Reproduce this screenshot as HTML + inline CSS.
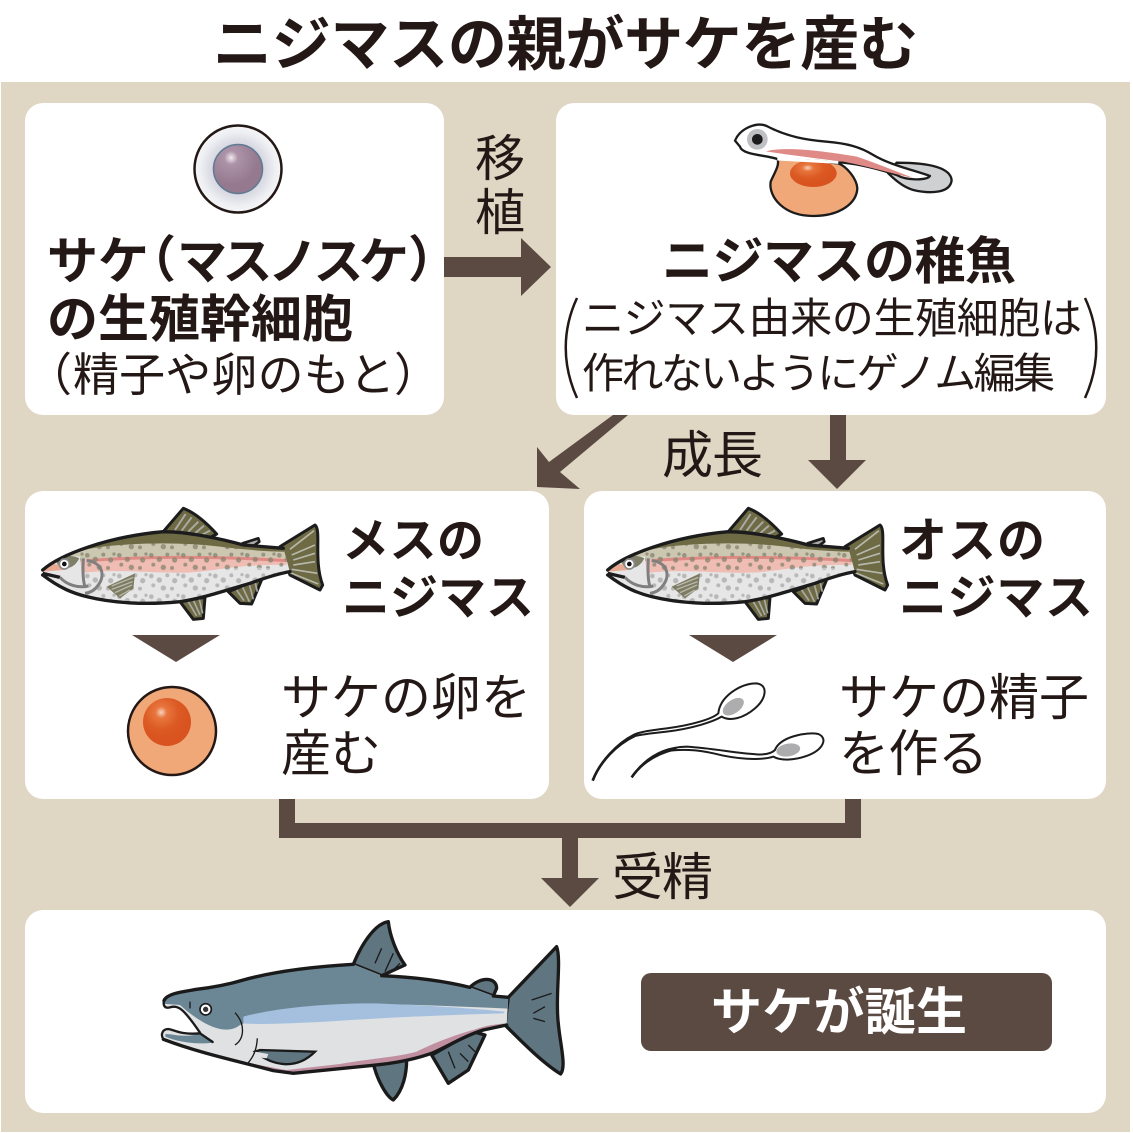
<!DOCTYPE html>
<html lang="ja"><head><meta charset="utf-8"><title>ニジマスの親がサケを産む</title>
<style>
html,body{margin:0;padding:0;background:#fff}
svg{display:block}
text{font-family:"Liberation Sans","Noto Sans CJK JP",sans-serif;fill:#231815}
.b{font-weight:700}
</style></head><body>
<svg width="1133" height="1133" viewBox="0 0 1133 1133" xmlns="http://www.w3.org/2000/svg">
<defs>
<radialGradient id="cell" cx=".5" cy=".5" r=".5"><stop offset=".5" stop-color="#cfd0da"/><stop offset=".85" stop-color="#eeeff3"/><stop offset="1" stop-color="#f6f6f8"/></radialGradient>
<radialGradient id="nuc" cx=".36" cy=".27" r=".55"><stop offset="0" stop-color="#f2eaf0"/><stop offset=".25" stop-color="#ad93a8"/><stop offset="1" stop-color="#94798f"/></radialGradient>
<radialGradient id="yolk" cx=".38" cy=".3" r=".6"><stop offset="0" stop-color="#f8d4c0"/><stop offset=".2" stop-color="#e8763e"/><stop offset=".6" stop-color="#dc5a24"/><stop offset="1" stop-color="#d8531f"/></radialGradient>
<pattern id="sp" width="96" height="62" patternUnits="userSpaceOnUse" fill="#b8b8b8">
<circle cx="10" cy="10" r="7"/><circle cx="34" cy="22" r="8"/><circle cx="58" cy="8" r="6"/><circle cx="80" cy="24" r="8"/><circle cx="16" cy="38" r="6"/><circle cx="46" cy="46" r="8"/><circle cx="72" cy="48" r="6"/><circle cx="90" cy="6" r="5"/>
</pattern>
<pattern id="sd" width="96" height="62" patternUnits="userSpaceOnUse" fill="#85826e" fill-opacity=".75">
<circle cx="10" cy="10" r="7"/><circle cx="34" cy="22" r="8"/><circle cx="58" cy="8" r="6"/><circle cx="80" cy="24" r="8"/><circle cx="16" cy="38" r="6"/><circle cx="46" cy="46" r="8"/><circle cx="72" cy="48" r="6"/><circle cx="90" cy="6" r="5"/>
</pattern>
<clipPath id="tb"><path d="M68 240C120 195 260 140 430 125C500 125 600 145 670 165L790 175L810 245C780 250 740 262 690 280C620 300 550 325 480 335C380 345 280 340 200 320C160 310 120 295 68 255Z"/></clipPath>
<g id="trout">
<path d="M430 125L490 55C530 70 570 110 590 132L560 148Z" fill="#6d6a44" stroke="#1c1c1c" stroke-width="9" stroke-linejoin="round"/>
<path d="M465 120L497 72M485 122L515 82M505 125L535 95M525 130L552 107M545 135L570 122" stroke="#a9aaa4" stroke-width="6" fill="none"/>
<path d="M668 160L715 145L718 155L695 172Z" fill="#a8abaa" stroke="#1c1c1c" stroke-width="8" stroke-linejoin="round"/>
<path d="M780 170L885 105C905 120 880 210 908 285L900 300L810 255Z" fill="#6d6a44" stroke="#1c1c1c" stroke-width="9" stroke-linejoin="round"/>
<path d="M810 178L882 122M815 195L885 165M820 210L885 190M820 225L885 215M815 238L892 250M810 248L895 282" stroke="#b7b8ac" stroke-width="5" fill="none"/>
<path d="M625 305L660 340L695 342L728 262L650 295Z" fill="#6d6a44" stroke="#1c1c1c" stroke-width="9" stroke-linejoin="round"/>
<path d="M650 300L672 332M668 292L688 335M688 283L700 328M705 275L712 305" stroke="#a9aaa4" stroke-width="5" fill="none"/>
<path d="M480 335L520 388L550 385L555 322Z" fill="#6d6a44" stroke="#1c1c1c" stroke-width="9" stroke-linejoin="round"/>
<path d="M505 335L530 378M520 330L540 375M538 328L548 370" stroke="#a9aaa4" stroke-width="5" fill="none"/>
<g clip-path="url(#tb)">
<rect x="60" y="110" width="770" height="240" fill="#e6e6e7"/>
<rect x="190" y="235" width="620" height="110" fill="url(#sp)"/>
<path d="M60 120H830V205C700 215 600 240 500 240C400 240 300 225 180 225L60 240Z" fill="#cbc7b1"/>
<path d="M180 210C300 195 600 195 800 205V225C650 222 580 245 500 248C380 250 280 235 180 250Z" fill="#efbdb4"/>
<path d="M200 212C350 200 600 198 800 212" stroke="#e08a86" stroke-width="9" fill="none"/>
<path d="M180 150H810V240C650 222 580 245 500 248C380 250 280 235 180 250Z" fill="url(#sd)"/>
<path d="M60 110H830V186C740 185 680 180 600 170C500 158 400 158 300 165C200 172 130 190 60 240Z" fill="#6d6a44"/>
<path d="M70 225C100 205 150 195 180 200L190 300L70 255Z" fill="#e6e6e7"/>
<path d="M70 235C90 220 120 215 130 240L70 245Z" fill="#e7a992"/>
<path d="M100 205C130 195 160 195 178 205C165 230 145 240 120 232Z" fill="#7f7f68"/>
</g>
<path d="M68 240C120 195 260 140 430 125C500 125 600 145 670 165L790 175M810 245C780 250 740 262 690 280C620 300 550 325 480 335C380 345 280 340 200 320C160 310 120 295 68 255" fill="none" stroke="#1c1c1c" stroke-width="10" stroke-linecap="round"/>
<path d="M68 250L120 262" stroke="#1c1c1c" stroke-width="10"/>
<path d="M120 262C140 285 175 295 205 288M190 205C188 240 188 270 195 290M200 212C240 215 260 250 235 285C225 300 210 308 195 310" fill="none" stroke="#7f7f7f" stroke-width="9"/>
<circle cx="133" cy="222" r="15" fill="#fff" stroke="#8b8b8b" stroke-width="5"/><circle cx="133" cy="222" r="7" fill="#111"/>
<path d="M260 290L345 250L340 295L300 325Z" fill="#7d7b60"/>
<path d="M275 288L340 262M275 298L338 275M285 308L336 285M298 318L330 300" stroke="#b8b8ae" stroke-width="4"/>
</g>
<clipPath id="sb"><path d="M72 272C80 250 130 245 170 238C220 232 260 225 310 210C400 185 520 170 640 163L725 197C800 200 900 210 990 232L1060 258L1105 262L1100 345L1030 360C980 375 930 405 880 428C820 450 760 460 700 466L460 490L400 482C300 455 180 430 70 388Z"/></clipPath>
</defs>

<rect width="1133" height="1133" fill="#fff"/>
<rect x="1" y="82" width="1129" height="1050" fill="#dfd6c4"/>
<rect x="25" y="103" width="419" height="312" rx="18" fill="#fff"/>
<rect x="556" y="103" width="550" height="312" rx="18" fill="#fff"/>
<rect x="25" y="491" width="524" height="308" rx="18" fill="#fff"/>
<rect x="584" y="491" width="522" height="308" rx="18" fill="#fff"/>
<rect x="25" y="910" width="1081" height="203" rx="18" fill="#fff"/>

<text class="b" x="213" y="65" font-size="59" textLength="705" lengthAdjust="spacing">ニジマスの親がサケを産む</text>

<!-- arrows -->
<g fill="#5a4a42">
<path d="M444 257H521V238L551 267L521 296V277H444Z"/>
<path d="M613 415H628L560 472L580 489L537 487V447L549 462Z"/>
<path d="M830 415H846V460H866L837 489L808 460H830Z"/>
<path d="M279 799H295V823H845V799H861V838H578V878H599L570 907L541 878H562V838H279Z"/>
<path d="M132 635H220L176 662Z"/>
<path d="M689 635H777L733 662Z"/>
<rect x="641" y="973" width="411" height="78" rx="10"/>
</g>

<!-- stem cell -->
<circle cx="238" cy="169" r="43.5" fill="url(#cell)" stroke="#231815" stroke-width="2.5"/>
<circle cx="238" cy="169" r="24.5" fill="url(#nuc)" stroke="#5f7a94" stroke-width="1.5"/>

<!-- fry -->
<g transform="translate(700 110) scale(.3333)">
<path d="M232 145C240 165 225 185 212 215C205 260 250 318 340 318C420 318 470 280 472 235C470 205 440 170 415 160Z" fill="#f0a878" stroke="#1c1c1c" stroke-width="7"/>
<ellipse cx="340" cy="190" rx="70" ry="41" fill="url(#yolk)"/>
<path d="M590 158C660 158 750 165 755 210C752 250 690 252 640 240C610 232 580 205 565 190Z" fill="#cfd0d2" stroke="#1c1c1c" stroke-width="7"/>
<path d="M105 92C120 55 170 35 200 48C260 80 320 90 380 95C440 100 480 110 520 135C570 165 640 180 690 198C680 212 620 212 590 195C530 175 470 160 415 157C350 152 280 150 232 147C200 135 125 135 120 110Z" fill="#fff" stroke="#1c1c1c" stroke-width="7" stroke-linejoin="round"/>
<path d="M232 147L415 157" stroke="#fff" stroke-width="9"/>
<path d="M198 124C260 108 380 125 470 140C530 160 590 185 640 204C570 190 500 168 430 155C350 145 270 135 198 124Z" fill="#df8a86"/>
<circle cx="172" cy="88" r="31" fill="#bfc0c2"/><circle cx="172" cy="88" r="16" fill="#1c1c1c"/>
</g>

<!-- trout -->
<use href="#trout" transform="translate(20 490) scale(.3333)"/>
<use href="#trout" transform="translate(585 490) scale(.3333)"/>

<!-- egg -->
<circle cx="172" cy="731" r="44" fill="#f0a878" stroke="#231815" stroke-width="2.5"/>
<circle cx="167" cy="722" r="24" fill="url(#yolk)"/>

<!-- sperm -->
<g transform="translate(580 670) scale(.3333)" fill="none" stroke="#1c1c1c" stroke-width="6">
<path d="M415 130C420 80 480 40 530 40C565 45 560 85 525 115C490 145 450 155 425 140C400 155 340 175 260 185C220 190 190 192 165 198C110 225 60 275 38 332C60 275 110 220 160 195C180 185 220 180 260 175C340 165 400 145 415 130Z" fill="#fff"/>
<path d="M585 240C600 200 680 185 715 192C745 205 730 240 680 258C640 272 600 272 580 260C540 272 470 268 400 250C350 238 300 238 270 242C220 255 180 285 155 322C190 270 240 232 320 230C400 235 470 250 530 253C560 255 575 250 585 240Z" fill="#fff"/>
<path d="M38 332C60 275 110 222 165 197" stroke-width="8"/>
<path d="M155 322C180 285 220 252 290 236" stroke-width="8"/>
<ellipse cx="460" cy="110" rx="36" ry="20" transform="rotate(-35 460 110)" fill="#adadaf" stroke="none"/>
<ellipse cx="625" cy="240" rx="36" ry="19" transform="rotate(-10 625 240)" fill="#adadaf" stroke="none"/>
</g>

<!-- salmon -->
<g transform="translate(140 910) scale(.3333)">
<path d="M640 163C670 90 710 40 745 35C750 80 770 130 795 165L725 197Z" fill="#5f7580" stroke="#1a1a1a" stroke-width="10" stroke-linejoin="round"/>
<path d="M705 160L725 115M735 185L760 130M750 190L780 160" stroke="#1a1a1a" stroke-width="4" fill="none"/>
<path d="M990 232C1020 200 1070 200 1070 235L1060 258Z" fill="#5f7580" stroke="#1a1a1a" stroke-width="10" stroke-linejoin="round"/>
<path d="M1105 262L1250 110C1265 150 1245 260 1255 340C1260 400 1280 470 1262 492C1210 460 1150 400 1095 345Z" fill="#5f7580" stroke="#1a1a1a" stroke-width="10" stroke-linejoin="round"/>
<path d="M1175 270L1235 250M1180 310L1215 290M1180 325L1215 335" stroke="#1a1a1a" stroke-width="4" fill="none"/>
<path d="M875 435L925 520L985 480L1035 375L1000 365Z" fill="#5f7580" stroke="#1a1a1a" stroke-width="10" stroke-linejoin="round"/>
<path d="M925 425L945 475M960 430L985 455M985 405L1005 425" stroke="#1a1a1a" stroke-width="4" fill="none"/>
<path d="M698 452C710 510 740 560 760 570C790 540 800 490 800 450Z" fill="#5f7580" stroke="#1a1a1a" stroke-width="10" stroke-linejoin="round"/>
<g clip-path="url(#sb)">
<rect x="50" y="150" width="1070" height="350" fill="#e0e1e3"/>
<path d="M50 150H1110V296C950 290 800 280 620 285C500 290 380 310 300 345C250 385 170 330 120 285L50 280Z" fill="#6b8796"/>
<path d="M310 320C400 295 550 280 700 280C850 285 1000 295 1095 305L1090 310C900 315 700 325 560 335C450 340 370 345 310 340Z" fill="#a5c0de"/>
<path d="M220 442C300 450 350 465 440 480L600 462C700 445 780 440 830 425C890 395 960 370 1000 360C1040 345 1070 342 1100 340V370L700 500L200 470Z" fill="#c08fa0"/>
</g>
<path d="M72 272C80 250 130 245 170 238C220 232 260 225 310 210C400 185 520 170 640 163M725 197C800 200 900 210 990 232M1060 258L1105 262M1100 345L1030 360C980 375 930 405 880 428C820 450 760 460 700 466L460 490L400 482C300 455 180 430 70 388" fill="none" stroke="#1a1a1a" stroke-width="10" stroke-linecap="round"/>
<!-- mouth -->
<path d="M40 296H82L105 288C125 295 150 330 180 368C150 375 120 372 100 362C85 355 65 360 40 358Z" fill="#fff"/>
<path d="M76 372C100 372 140 385 180 370L218 398C170 405 110 395 76 380Z" fill="#6b8796"/>
<path d="M72 272C68 290 78 296 90 292C115 285 130 295 180 368" fill="none" stroke="#1a1a1a" stroke-width="7" stroke-linecap="round"/>
<path d="M70 388C60 370 70 357 85 357C105 360 120 375 180 370L218 396" fill="none" stroke="#1a1a1a" stroke-width="7" stroke-linecap="round"/>
<path d="M345 425C400 470 470 480 525 425L360 420Z" fill="#5f7580" stroke="#1a1a1a" stroke-width="7"/>
<path d="M345 425L385 432L380 445L340 440Z" fill="#e0e1e3"/>
<path d="M285 308C315 340 315 385 285 405M352 385C350 420 340 440 325 458M150 275V295" fill="none" stroke="#1a1a1a" stroke-width="4"/>
<circle cx="197" cy="298" r="17" fill="#fff" stroke="#1a1a1a" stroke-width="5"/><circle cx="197" cy="298" r="8" fill="#333"/>
</g>

<!-- texts -->
<text class="b" x="47" y="279" font-size="51" textLength="102" lengthAdjust="spacing">サケ</text>
<text class="b" x="126" y="277" font-size="50">（</text>
<text class="b" x="177" y="279" font-size="50" textLength="232" lengthAdjust="spacing">マスノスケ</text>
<text class="b" x="408" y="277" font-size="50">）</text>
<text class="b" x="47" y="337" font-size="51" textLength="306" lengthAdjust="spacing">の生殖幹細胞</text>
<text x="26" y="391" font-size="46">（</text>
<text x="73" y="391" font-size="46" textLength="322" lengthAdjust="spacing">精子や卵のもと</text>
<text x="394" y="391" font-size="46">）</text>
<text x="475" y="176" font-size="50">移</text>
<text x="475" y="230" font-size="50">植</text>
<text class="b" x="662" y="279" font-size="51" textLength="354" lengthAdjust="spacing">ニジマスの稚魚</text>
<text x="582" y="333" font-size="42" textLength="500" lengthAdjust="spacing">ニジマス由来の生殖細胞は</text>
<text x="582" y="388" font-size="42" textLength="473" lengthAdjust="spacing">作れないようにゲノム編集</text>
<path d="M577 298C562 330 562 365 577 398M1085 298C1100 330 1100 365 1085 398" fill="none" stroke="#231815" stroke-width="2.5"/>
<text x="662" y="473" font-size="51" textLength="101" lengthAdjust="spacing">成長</text>
<text class="b" x="342" y="557" font-size="47" textLength="142" lengthAdjust="spacing">メスの</text>
<text class="b" x="342" y="614" font-size="48" textLength="192" lengthAdjust="spacing">ニジマス</text>
<text class="b" x="899" y="557" font-size="48" textLength="146" lengthAdjust="spacing">オスの</text>
<text class="b" x="899" y="614" font-size="48" textLength="194" lengthAdjust="spacing">ニジマス</text>
<text x="281" y="715" font-size="50" textLength="250" lengthAdjust="spacing">サケの卵を</text>
<text x="281" y="771" font-size="50" textLength="100" lengthAdjust="spacing">産む</text>
<text x="839" y="715" font-size="50" textLength="250" lengthAdjust="spacing">サケの精子</text>
<text x="839" y="771" font-size="50" textLength="149" lengthAdjust="spacing">を作る</text>
<text x="612" y="895" font-size="51" textLength="101" lengthAdjust="spacing">受精</text>
<text class="b" x="711" y="1030" font-size="51" textLength="256" lengthAdjust="spacing" style="fill:#fff">サケが誕生</text>
</svg>
</body></html>
